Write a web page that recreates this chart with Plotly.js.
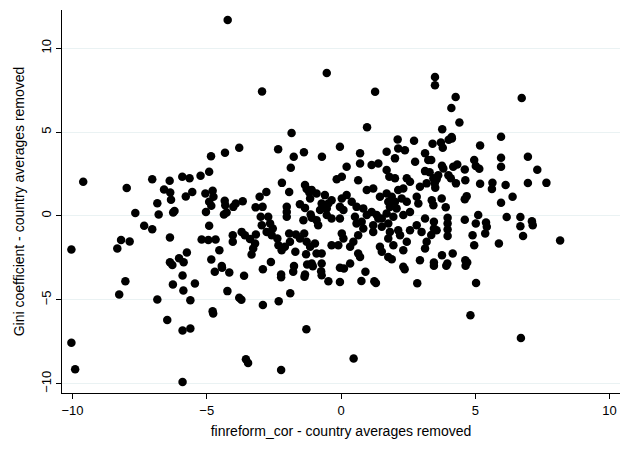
<!DOCTYPE html>
<html><head><meta charset="utf-8">
<script src="https://cdn.plot.ly/plotly-3.0.1.min.js"></script>
<style>body{margin:0;background:#fff}#chart{width:620px;height:455px}</style>
</head><body><div id="chart"></div>
<script>
// finreform_cor (country averages removed), Gini coefficient (country averages removed)
const finreform = [
-4.22,-2.94,-1.84,-0.53,1.27,0.97,3.50,3.50,2.11,2.72,
4.27,4.11,4.41,3.77,4.12,6.73,5.96,
-9.60,-7.98,-7.03,-6.38,-5.91,-5.64,-6.59,-6.36,-6.33,-5.78,-5.54,-6.84,-7.66,-6.79,-6.25,-6.20,-7.33,-7.03,-6.37,-8.19,-7.87,-8.33,-10.04,-5.74,-6.03,-5.86,-6.37,-6.28,
-8.03,-8.26,-6.84,-6.26,-5.90,-5.87,-5.61,-5.44,-6.47,-5.90,-5.61,-10.04,-9.90,-5.90,
-4.70,-4.43,-4.16,-3.61,-4.23,-3.79,-3.71,-4.78,-4.76,-2.91,-2.91,-2.32,-2.23,-2.23,-1.89,-1.78,-1.75,-1.34,-1.36,-1.29,-3.54,-3.46,-2.23,
-1.05,-0.74,-0.72,-0.47,-0.04,0.11,-0.04,0.91,0.76,1.24,1.30,2.37,2.84,0.47,
3.46,3.92,4.64,5.03,4.82,6.70,
3.41,3.72,3.79,4.13,4.01,5.18,3.36,3.76,3.81,4.18,4.33,4.61,4.96,5.02,5.15,5.96,5.96,6.96,7.31,3.62,3.56,4.00,4.09,4.28,4.63,3.49,3.51,5.18,5.64,5.62,6.13,6.96,7.65,6.39,4.68,4.61,3.75,3.38,3.44,3.90,5.96,5.11,6.17,6.68,7.11,7.14,6.68,6.78,8.16,5.88,5.40,5.43,5.37,5.02,4.61,4.90,4.96,3.97,3.97,3.97,3.97,3.46,3.46,3.56,3.36,4.16,3.76,3.46,3.96,4.63,4.70,
-3.79,-4.32,-4.84,-2.34,-1.76,-1.38,-1.87,-4.91,-5.23,-5.05,-4.78,-4.75,-4.91,-4.83,-5.03,-4.33,-4.31,-4.36,-4.26,-4.01,-3.92,-3.66,-3.03,-2.78,-3.18,-2.92,-2.20,-1.93,-2.02,-2.02,-2.02,-1.34,-1.28,-1.18,-1.53,-1.34,-1.13,-1.09,-1.40,-2.99,-2.71,-2.95,-2.64,-2.54,-2.77,-2.58,-2.37,-2.33,-2.09,-1.90,-1.93,-1.68,-1.53,-1.37,-1.28,-1.15,-1.70,-1.30,-4.91,-5.19,-4.94,-4.67,-4.53,-4.03,-4.03,-3.70,-3.58,-3.39,-3.17,-3.20,-3.27,-3.33,-4.83,-4.44,-2.61,-1.26,-2.21,
-0.04,-0.71,0.71,0.71,0.21,1.14,1.39,1.70,2.01,2.13,2.38,2.76,3.13,3.25,3.13,3.30,1.70,1.80,2.01,2.45,2.57,2.32,2.13,2.94,3.19,3.44,0.03,-0.16,0.64,0.96,1.20,1.45,1.70,1.89,1.76,2.01,1.82,2.07,2.26,2.45,2.82,2.88,2.57,2.32,1.95,1.70,1.52,1.33,1.14,0.96,0.83,0.58,0.40,0.21,0.03,-0.35,-0.60,-0.47,-0.72,-0.91,-1.09,-1.15,-0.78,-0.53,-0.04,0.09,-0.91,-0.85,-0.35,-0.04,0.52,0.58,0.77,0.83,1.20,1.39,1.20,1.52,1.76,1.82,2.13,2.20,2.57,2.82,3.13,3.00,3.19,3.13,2.94,2.45,2.32,1.95,1.76,1.45,1.52,1.76,1.89,2.32,0.64,0.46,0.34,0.64,0.71,0.03,0.09,-0.10,-0.35,-0.97,-0.91,-0.72,0.34,-0.72,-1.09,-0.53
];
const gini = [
11.67,7.42,4.94,8.51,7.40,5.28,8.28,7.78,4.56,4.48,
7.08,6.43,5.57,5.16,4.70,7.02,4.72,
2.03,1.66,2.19,2.09,2.33,2.24,1.58,1.40,0.96,1.16,1.42,0.76,0.17,0.09,0.21,0.30,-0.59,-0.79,-1.28,-1.44,-1.52,-1.94,-2.00,-2.18,-2.52,-2.76,-2.76,-2.93,
-3.89,-4.68,-4.98,-4.09,-3.55,-4.44,-5.02,-4.03,-6.20,-6.83,-6.71,-7.55,-9.14,-9.89,
-3.33,-3.09,-3.37,-3.57,-4.48,-4.88,-5.00,-5.68,-5.81,-3.17,-5.30,-5.08,-3.49,-3.65,-4.60,-3.33,-2.99,-3.49,-3.62,-6.75,-8.54,-8.76,-9.18,
-3.00,-3.29,-3.53,-3.89,-3.09,-3.13,-3.93,-3.33,-3.87,-3.89,-3.99,-3.17,-4.01,-8.50,
-2.97,-2.97,-2.97,-3.99,-5.92,-7.27,
4.30,4.38,4.06,4.62,4.54,4.20,3.33,2.99,2.83,2.93,3.07,2.77,3.33,2.97,2.81,3.46,2.93,3.53,2.75,2.43,2.18,2.43,2.24,1.94,2.12,1.94,1.68,1.92,1.97,1.60,1.84,1.96,1.97,1.14,1.18,1.00,1.04,0.94,0.64,0.52,0.78,0.05,-0.07,-0.07,-0.31,-0.55,-0.61,-1.20,-1.46,-1.64,-0.39,-0.65,-1.05,-0.45,-0.23,-1.15,-1.74,-0.11,-0.45,-0.81,-1.20,-0.35,-0.75,-0.85,-1.14,-2.24,-2.34,-2.77,-2.83,-2.64,-2.77,
4.06,3.76,3.55,3.98,3.52,3.79,2.87,2.63,2.39,1.34,1.50,1.14,0.84,0.60,0.24,0.90,0.64,0.09,0.21,0.54,0.74,0.88,1.14,1.42,0.51,0.54,1.97,1.42,0.54,0.24,-0.05,1.84,1.60,1.40,0.70,0.48,0.09,-0.11,-0.25,-0.05,-0.05,-0.55,-0.45,-0.75,-0.95,-1.15,-1.34,-1.74,-1.84,-1.54,-1.04,-1.10,-1.34,-1.04,-1.54,-1.84,-2.14,-2.28,-0.59,-1.40,-1.44,-1.40,-2.04,-1.15,-1.54,-0.95,-1.15,-1.38,-1.10,-1.64,-1.94,-2.30,-2.60,-2.99,-2.74,-2.89,-2.04,
4.12,3.53,3.73,3.13,2.93,3.03,3.13,3.82,3.43,4.02,3.92,3.23,3.73,3.33,2.67,2.60,2.73,2.33,2.24,2.24,2.03,1.64,1.54,1.74,1.94,2.24,2.33,2.19,2.13,1.54,1.64,1.14,1.34,1.14,0.84,0.84,0.54,0.45,1.04,0.84,1.14,0.74,0.24,0.05,-0.05,0.15,-0.15,0.05,0.24,0.05,0.45,0.54,0.84,1.24,1.04,0.94,1.24,0.74,0.74,1.34,1.54,1.04,0.35,0.45,0.54,0.35,-0.25,-0.55,-0.15,-0.15,-0.05,-0.45,-0.35,-0.75,-0.55,-0.15,-0.95,-0.65,-0.45,-0.95,-0.85,-1.15,-0.85,-0.55,-0.15,-0.95,-1.54,-1.94,-2.64,-1.54,-2.04,-1.74,-1.34,-1.84,-2.14,-2.44,-2.58,-3.03,-1.15,-1.54,-1.84,-2.24,-2.44,-1.04,-1.34,-1.74,-1.74,-1.64,-2.24,-2.24,-2.83,-2.83,-2.83,0.05
];
const xTicks = [-10, -5, 0, 5, 10];
const yTicks = [-10, -5, 0, 5, 10];
const xTitle = 'finreform_cor - country averages removed';
const yTitle = 'Gini coefficient - country averages removed';

const font = 'Liberation Sans, Arial, sans-serif';
Plotly.newPlot('chart', [{
  x: finreform, y: gini, type: 'scatter', mode: 'markers',
  marker: {color: '#000000', size: 8.5, line: {width: 0}},
  hoverinfo: 'skip'
}], {
  width: 620, height: 455,
  margin: {l: 62, r: 0, t: 10, b: 62},
  paper_bgcolor: '#ffffff', plot_bgcolor: '#ffffff',
  showlegend: false,
  font: {family: font, size: 13, color: '#000'},
  xaxis: {
    range: [-10.39, 10.39], tickvals: xTicks, ticks: 'outside', ticklen: 5, tickcolor: '#000',
    showgrid: false, zeroline: false, showline: true, linecolor: '#000', linewidth: 1,
    tickfont: {family: font, size: 13},
    title: {text: xTitle, font: {family: font, size: 14}, standoff: 9}
  },
  yaxis: {
    range: [-10.55, 12.27], tickvals: yTicks, ticks: 'outside', ticklen: 5, tickcolor: '#000',
    tickangle: -90,
    showgrid: true, gridcolor: '#eaf2f3', gridwidth: 1, zeroline: false,
    showline: true, linecolor: '#000', linewidth: 1,
    tickfont: {family: font, size: 13},
    title: {text: yTitle, font: {family: font, size: 14}, standoff: 10}
  }
}, {staticPlot: true});
</script></body></html>
